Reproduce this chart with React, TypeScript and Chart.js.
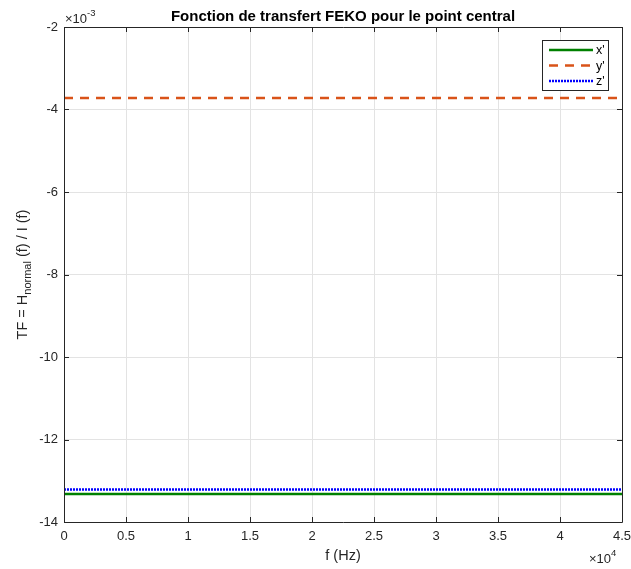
import React, { useEffect, useRef } from "react";
import { Chart, registerables } from "chart.js";

Chart.register(...registerables);

const freqHz = [0, 5000, 10000, 15000, 20000, 25000, 30000, 35000, 40000, 45000];
const xPrime = [-0.01332, -0.01332, -0.01332, -0.01332, -0.01332, -0.01332, -0.01332, -0.01332, -0.01332, -0.01332];
const yPrime = [-0.00372, -0.00372, -0.00372, -0.00372, -0.00372, -0.00372, -0.00372, -0.00372, -0.00372, -0.00372];
const zPrime = [-0.01321, -0.01321, -0.01321, -0.01321, -0.01321, -0.01321, -0.01321, -0.01321, -0.01321, -0.01321];
const seriesNames = ["x'", "y'", "z'"];
const titleText = "Fonction de transfert FEKO pour le point central";
const xTitle = "f (Hz)";

const FONT = "'Liberation Sans', Arial, Helvetica, sans-serif";
const AX = "#262626";

const decor = {
  id: "decor",
  afterDatasetsDraw(chart: any) {
    const { ctx, chartArea: a } = chart;
    const xs = chart.scales.x;
    const ys = chart.scales.y;
    ctx.save();
    // box
    ctx.strokeStyle = AX;
    ctx.lineWidth = 1;
    ctx.beginPath();
    ctx.rect(Math.round(a.left) + 0.5, Math.round(a.top) + 0.5, Math.round(a.right - a.left), Math.round(a.bottom - a.top));
    ctx.stroke();
    // ticks inward
    const tl = 5;
    ctx.beginPath();
    xs.ticks.forEach((t: any) => {
      const px = Math.round(xs.getPixelForValue(t.value)) + 0.5;
      ctx.moveTo(px, a.bottom);
      ctx.lineTo(px, a.bottom - tl);
      ctx.moveTo(px, a.top);
      ctx.lineTo(px, a.top + tl);
    });
    ys.ticks.forEach((t: any) => {
      const py = Math.round(ys.getPixelForValue(t.value)) + 0.5;
      ctx.moveTo(a.left, py);
      ctx.lineTo(a.left + tl, py);
      ctx.moveTo(a.right, py);
      ctx.lineTo(a.right - tl, py);
    });
    ctx.stroke();

    // title
    ctx.fillStyle = "#000";
    ctx.font = `bold 15px ${FONT}`;
    ctx.textAlign = "center";
    ctx.textBaseline = "alphabetic";
    ctx.fillText(titleText, (a.left + a.right) / 2, 21);

    // exponent labels
    ctx.fillStyle = AX;
    ctx.textAlign = "left";
    ctx.font = `13px ${FONT}`;
    ctx.fillText("\u00d710", a.left + 1, 23);
    let w = ctx.measureText("\u00d710").width;
    ctx.font = `9.5px ${FONT}`;
    ctx.fillText("-3", a.left + 1 + w, 16);

    ctx.font = `13px ${FONT}`;
    const bx = 589;
    ctx.fillText("\u00d710", bx, 563);
    w = ctx.measureText("\u00d710").width;
    ctx.font = `9.5px ${FONT}`;
    ctx.fillText("4", bx + w, 556);

    // x title
    ctx.font = `14.5px ${FONT}`;
    ctx.textAlign = "center";
    ctx.fillText(xTitle, (a.left + a.right) / 2, 560);

    // y title with subscript
    ctx.save();
    ctx.translate(27, (a.top + a.bottom) / 2);
    ctx.rotate(-Math.PI / 2);
    const p1 = "TF = H";
    const sub = "normal";
    const p2 = " (f) / I (f)";
    ctx.font = `14.5px ${FONT}`;
    const w1 = ctx.measureText(p1).width;
    const w3 = ctx.measureText(p2).width;
    ctx.font = `11px ${FONT}`;
    const w2 = ctx.measureText(sub).width;
    const tot = w1 + w2 + w3;
    let cx = -tot / 2;
    ctx.textAlign = "left";
    ctx.font = `14.5px ${FONT}`;
    ctx.fillText(p1, cx, 0);
    cx += w1;
    ctx.font = `11px ${FONT}`;
    ctx.fillText(sub, cx, 4);
    cx += w2;
    ctx.font = `14.5px ${FONT}`;
    ctx.fillText(p2, cx, 0);
    ctx.restore();

    // legend
    const lx = 542, ly = 40, lw = 66, lh = 50;
    ctx.fillStyle = "#fff";
    ctx.fillRect(lx, ly, lw, lh);
    ctx.strokeStyle = AX;
    ctx.lineWidth = 1;
    ctx.strokeRect(lx + 0.5, ly + 0.5, lw, lh);
    chart.data.datasets.forEach((ds: any, i: number) => {
      const yy = ly + 10 + i * 15.5;
      ctx.strokeStyle = ds.borderColor;
      ctx.lineWidth = ds.borderWidth;
      ctx.setLineDash(ds.borderDash || []);
      ctx.beginPath();
      ctx.moveTo(lx + 7, yy);
      ctx.lineTo(lx + 51, yy);
      ctx.stroke();
      ctx.setLineDash([]);
      ctx.fillStyle = "#000";
      ctx.font = `12.5px ${FONT}`;
      ctx.textAlign = "left";
      ctx.textBaseline = "middle";
      ctx.fillText(ds.label, lx + 54, yy + 1);
    });
    ctx.restore();
  },
};

export default function App() {
  const ref = useRef<HTMLCanvasElement>(null);
  useEffect(() => {
    if (!ref.current) return;
    const chart = new Chart(ref.current, {
      type: "line",
      data: {
        labels: freqHz,
        datasets: [
          {
            label: seriesNames[0],
            data: freqHz.map((f, i) => ({ x: f, y: xPrime[i] })),
            borderColor: "#008000",
            borderWidth: 2.5,
            pointRadius: 0,
            fill: false,
          },
          {
            label: seriesNames[1],
            data: freqHz.map((f, i) => ({ x: f, y: yPrime[i] })),
            borderColor: "#D95319",
            borderWidth: 2.5,
            borderDash: [9, 7],
            pointRadius: 0,
            fill: false,
          },
          {
            label: seriesNames[2],
            data: freqHz.map((f, i) => ({ x: f, y: zPrime[i] })),
            borderColor: "#0000FF",
            borderWidth: 2.5,
            borderDash: [2, 1],
            pointRadius: 0,
            fill: false,
          },
        ],
      },
      options: {
        responsive: false,
        animation: false,
        layout: { padding: { left: 0, right: 9, top: 27, bottom: 0 } },
        plugins: { legend: { display: false }, title: { display: false }, tooltip: { enabled: false } },
        scales: {
          x: {
            type: "linear",
            min: 0,
            max: 45000,
            afterFit: (s: any) => { s.height = 47; s.paddingLeft = 0; s.paddingRight = 0; },
            ticks: {
              stepSize: 5000,
              padding: 7,
              color: AX,
              font: { family: FONT, size: 13 },
              maxRotation: 0,
              callback: (v: any) => String(Math.round(Number(v) / 1000) / 10),
            },
            grid: { color: "#e3e3e3", drawTicks: false, lineWidth: 1 },
            border: { display: false },
          },
          y: {
            type: "linear",
            min: -0.014,
            max: -0.002,
            afterFit: (s: any) => { s.width = 64; s.paddingTop = 0; s.paddingBottom = 0; },
            ticks: {
              stepSize: 0.002,
              padding: 6,
              color: AX,
              font: { family: FONT, size: 13 },
              callback: (v: any) => String(Math.round(Number(v) * 1000)),
            },
            grid: { color: "#e3e3e3", drawTicks: false, lineWidth: 1 },
            border: { display: false },
          },
        },
      },
      plugins: [decor],
    });
    return () => chart.destroy();
  }, []);
  return (
    <div style={{ position: "absolute", left: 0, top: 0, width: 631, height: 569, background: "#fff" }}>
      <canvas ref={ref} width={631} height={569} style={{ width: 631, height: 569, display: "block" }} />
    </div>
  );
}
